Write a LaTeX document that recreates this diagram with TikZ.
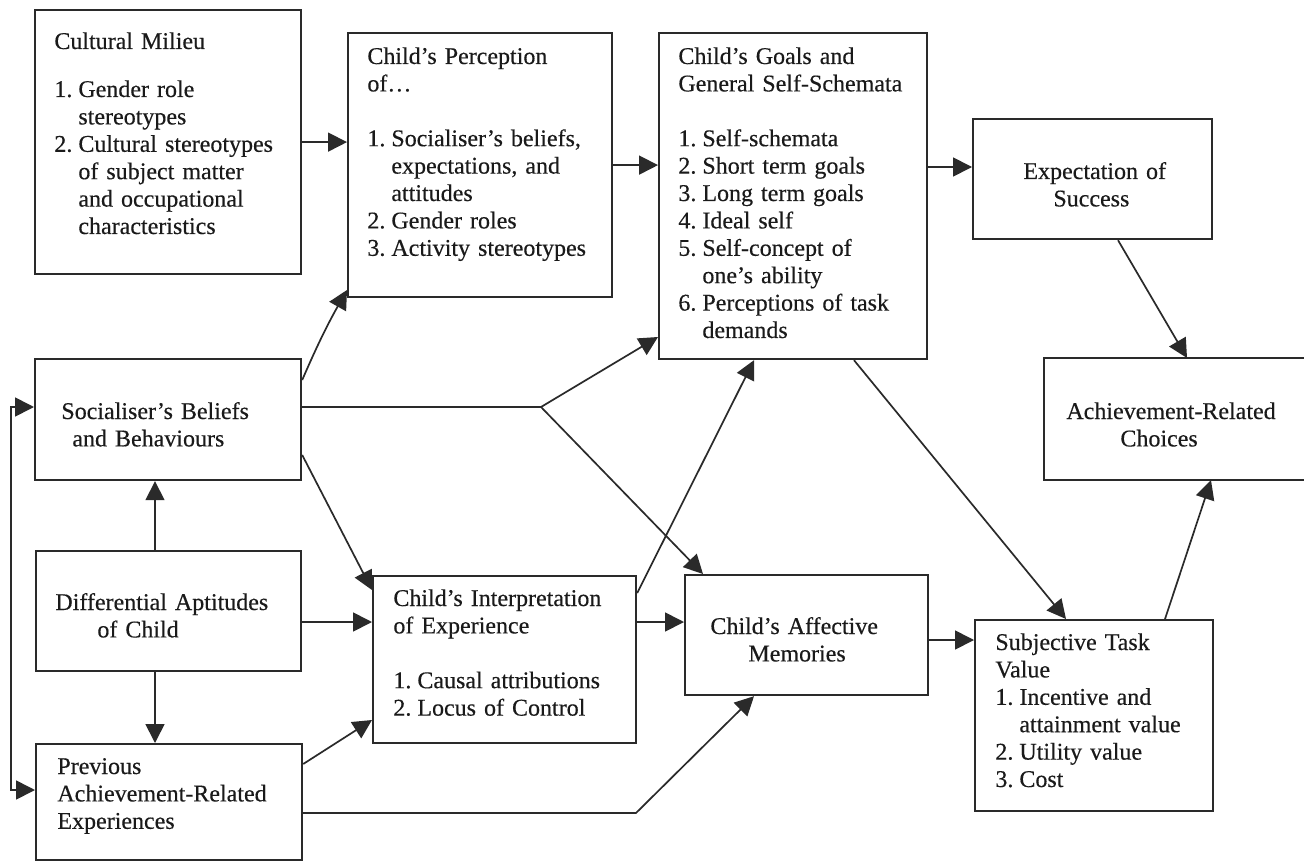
\documentclass[tikz,border=0pt]{standalone}
\usepackage{fontspec}
\setmainfont[FakeBold=0.35]{Liberation Serif}
\usetikzlibrary{arrows.meta,calc}

\definecolor{ink}{HTML}{1A1A1A}
\definecolor{edge}{HTML}{2A2A2A}

% numbered entry and continuation indent inside the boxes
\newcommand\lnum[1]{\makebox[12pt][l]{#1}}
\newcommand\lcont{\hspace*{12pt}}

\tikzset{
  box/.style={draw=edge, line width=1.1pt, rectangle, inner sep=0pt, anchor=north west},
  txt/.style={anchor=base west, inner sep=0pt, text width=130pt, align=left,
              text=ink, font=\fontsize{12pt}{13.7pt}\selectfont},
  conn/.style={draw=edge, line width=0.85pt},
  arr/.style={conn, -{Triangle[length=9.5pt,width=9.5pt]}},
  arrboth/.style={conn, {Triangle[length=9.5pt,width=9.5pt]}-{Triangle[length=9.5pt,width=9.5pt]}},
}

\begin{document}
\begin{tikzpicture}[x=0.5pt,y=-0.5pt]
\useasboundingbox (0,0) rectangle (1304,861);
\fill[white] (0,0) rectangle (1304,861);

% ---- boxes ----
\node[box, minimum width=133pt, minimum height=132pt]   (cm) at (34,9)    {};
\node[box, minimum width=132pt, minimum height=132pt]   (pc) at (347,32)  {};
\node[box, minimum width=134pt, minimum height=163pt]   (gl) at (658,32)  {};
\node[box, minimum width=119.5pt, minimum height=60pt]  (ex) at (972,118) {};
\node[box, draw=none, minimum width=130pt, minimum height=60pt] (ac) at (1044,358) {};
\draw[draw=edge, line width=1.1pt] (ac.north east) -- (ac.north west) -- (ac.south west) -- (ac.south east);
\node[box, minimum width=133pt, minimum height=60.5pt]  (sb) at (34,358)  {};
\node[box, minimum width=132.5pt, minimum height=60pt]  (da) at (35,550)  {};
\node[box, minimum width=133pt, minimum height=58pt]    (pe) at (35,743)  {};
\node[box, minimum width=131.5pt, minimum height=83.5pt] (ci) at (372,575) {};
\node[box, minimum width=121.5pt, minimum height=60pt]  (am) at (684,574) {};
\node[box, minimum width=119pt, minimum height=95.5pt]  (st) at (974,619) {};

% ---- texts ----
\node[txt] (cmT) at (54,49) {Cultural Milieu\\[10.3pt]
  \lnum{1.}Gender role\\
  \lcont stereotypes\\
  \lnum{2.}Cultural stereotypes\\
  \lcont of subject matter\\
  \lcont and occupational\\
  \lcont characteristics};

\node[txt] (pcT) at (367,64) {Child's Perception\\
  of…\\[13.7pt]
  \lnum{1.}Socialiser's beliefs,\\
  \lcont expectations, and\\
  \lcont attitudes\\
  \lnum{2.}Gender roles\\
  \lnum{3.}Activity stereotypes};

\node[txt] (glT) at (678,64) {Child's Goals and\\
  General Self-Schemata\\[13.7pt]
  \lnum{1.}Self-schemata\\
  \lnum{2.}Short term goals\\
  \lnum{3.}Long term goals\\
  \lnum{4.}Ideal self\\
  \lnum{5.}Self-concept of\\
  \lcont one's ability\\
  \lnum{6.}Perceptions of task\\
  \lcont demands};

\node[txt] (exT) at (1023,179) {Expectation of\\
  \hspace*{15pt}Success};

\node[txt] (acT) at (1066,419) {Achievement-Related\\
  \hspace*{27pt}Choices};

\node[txt] (sbT) at (61,419) {Socialiser's Beliefs\\
  \hspace*{5.5pt}and Behaviours};

\node[txt] (daT) at (55,610) {Differential Aptitudes\\
  \hspace*{21pt}of Child};

\node[txt] (peT) at (57,774) {Previous\\
  Achievement-Related\\
  Experiences};

\node[txt] (ciT) at (393,606) {Child's Interpretation\\
  of Experience\\[13.7pt]
  \lnum{1.}Causal attributions\\
  \lnum{2.}Locus of Control};

\node[txt] (amT) at (710,634) {Child's Affective\\
  \hspace*{19pt}Memories};

\node[txt] (stT) at (995,650) {Subjective Task\\
  Value\\
  \lnum{1.}Incentive and\\
  \lcont attainment value\\
  \lnum{2.}Utility value\\
  \lnum{3.}Cost};

% ---- connectors ----
\coordinate (br)  at (541,407);
\coordinate (fbT) at (11,407);
\coordinate (fbB) at (11,790);
\coordinate (pk)  at (636,813);

\draw[arr] (cm.east) -- (cm.east -| pc.west);
\draw[arr] (pc.east) -- (pc.east -| gl.west);
\draw[arr] (gl.east |- 0,167) -- (ex.west |- 0,167);
\draw[arr] (1118,0 |- ex.south) -- (1187,0 |- ac.north);

\draw[arr] (sb.east |- 0,380) to[bend left=3] (pc.west |- 0,290);
\draw[conn] (sb.east |- br) -- (br);
\draw[arr] (br) -- (gl.west |- 0,337);
\draw[arr] (br) -- (703,0 |- am.north);
\draw[arr] (sb.east |- 0,455) -- (ci.west |- 0,590);

\draw[arr] (155,0 |- da.north) -- (155,0 |- sb.south);
\draw[arr] (155,0 |- da.south) -- (155,0 |- pe.north);
\draw[arr] (da.east |- 0,622) -- (ci.west |- 0,622);

\draw[arrboth] (sb.west |- fbT) -- (fbT) -- (fbB) -- (pe.west |- fbB);

\draw[arr] (pe.east |- 0,764) -- (ci.west |- 0,720);
\draw[arr] (pe.east |- pk) -- (pk) -- (754,0 |- am.south);

\draw[arr] (ci.east |- 0,593) -- (754,0 |- gl.south);
\draw[arr] (ci.east |- 0,622) -- (am.west |- 0,622);
\draw[arr] (am.east |- 0,640) -- (st.west |- 0,640);

\draw[arr] (854,0 |- gl.south) -- (1066,0 |- st.north);
\draw[arr] (1165,0 |- st.north) -- (1211,0 |- ac.south);
\end{tikzpicture}
\end{document}
